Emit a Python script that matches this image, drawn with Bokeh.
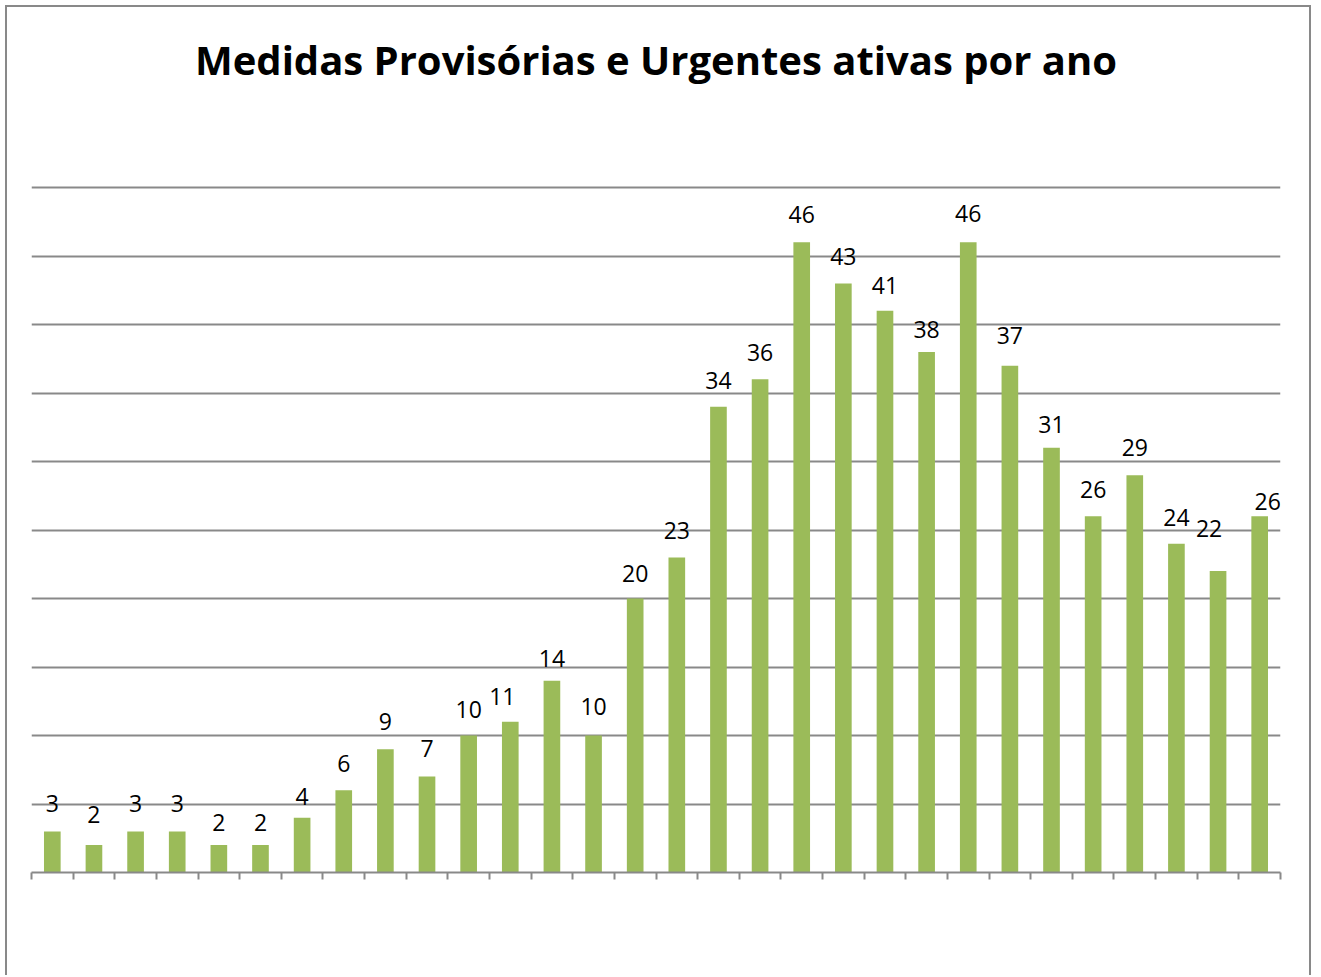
from bokeh.plotting import figure
from bokeh.models import ColumnDataSource, FixedTicker, LabelSet, Title
from bokeh.core.properties import value
from bokeh.embed import file_html
from bokeh.resources import INLINE

# ---- data ----
title_text = "Medidas Provisórias e Urgentes ativas por ano"
values = [3, 2, 3, 3, 2, 2, 4, 6, 9, 7, 10, 11, 14, 10, 20, 23,
          34, 36, 46, 43, 41, 38, 46, 37, 31, 26, 29, 24, 22, 26]
grid_ticks = [5, 10, 15, 20, 25, 30, 35, 40, 45, 50]

# ---- label placement tweaks (pixels) ----
label_dx = [0, 0, 0, 0, 0, 0, 0, 0, 0, 0, 0, -8, 0, 0, 0, 0,
            0, 0, 0, 0, 0, 0, 0, 0, 0, 0, 0, 0, -9, 8]
label_dy = [19, 22, 19, 19, 14, 14, 13, 18, 19, 20, 18, 17, 14, 21, 17, 18,
            18, 18, 19, 18, 17, 14, 20, 22, 15, 18, 19, 18, 34, 6]

n = len(values)
xs = [i + 0.5 for i in range(n)]
src = ColumnDataSource(dict(x=xs, top=values, label=[str(v) for v in values],
                            dx=label_dx, dy=label_dy))

GREY = "#898989"
W, H = 1306, 970
BL, BR, BT, BB = 24, 33, 178, 105

p = figure(width=W, height=H, x_range=(0, n), y_range=(0, 50.15), title=None,
           output_backend="svg", toolbar_location=None,
           min_border_left=BL, min_border_right=BR, min_border_top=BT,
           min_border_bottom=BB)
p.styles = {"margin-left": "5px", "margin-top": "5px",
            "border-left": f"2px solid {GREY}", "border-top": f"2px solid {GREY}",
            "border-right": f"2px solid {GREY}"}

# spacer between title and plot area, then the title itself
p.add_layout(Title(text=" ", text_font_size="1px", standoff=91), "above")
p.add_layout(Title(text=title_text, align="center", offset=7, standoff=10,
                   text_font="Open Sans", text_font_style="bold",
                   text_font_size="40px", text_color="black"), "above")

p.outline_line_color = None
p.background_fill_color = "white"
p.border_fill_color = "white"

p.vbar(x="x", top="top", bottom=0, width=0.4, source=src,
       fill_color="#9BBB59", line_color=None)

labels = LabelSet(x="x", y="top", text="label", x_offset="dx", y_offset="dy",
                  source=src, text_align="center", text_baseline="alphabetic",
                  text_font=value("Open Sans"), text_font_size="23px",
                  text_color="black")
p.add_layout(labels)

p.yaxis.visible = False
p.xgrid.visible = False
p.ygrid.ticker = FixedTicker(ticks=grid_ticks)
p.ygrid.grid_line_color = GREY
p.ygrid.grid_line_width = 2

p.xaxis.ticker = FixedTicker(ticks=list(range(n + 1)))
p.xaxis.major_label_text_font_size = "0px"
p.xaxis.major_label_text_color = None
p.xaxis.axis_line_color = GREY
p.xaxis.axis_line_width = 2
p.xaxis.major_tick_line_color = GREY
p.xaxis.major_tick_line_width = 2
p.xaxis.major_tick_out = 7
p.xaxis.major_tick_in = 0
p.xaxis.minor_tick_line_color = None

open("out.html", "w").write(file_html(p, INLINE))
